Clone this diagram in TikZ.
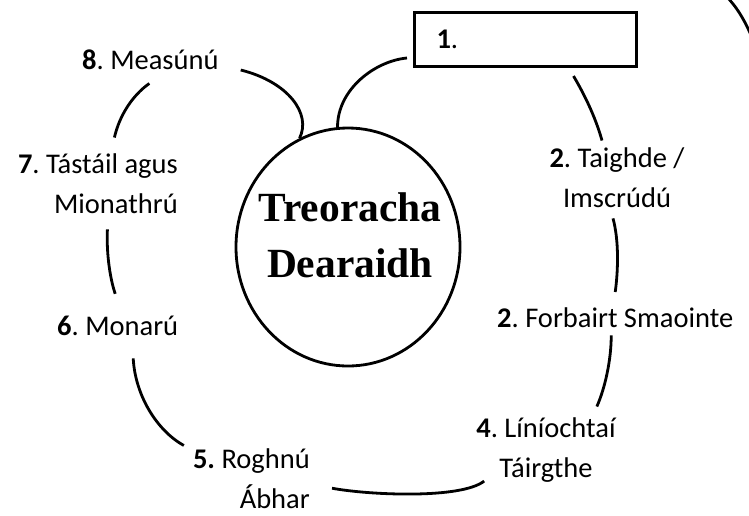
\documentclass[tikz,border=0pt]{standalone}
\usepackage{fontspec}
\setmainfont{Carlito}
\newfontfamily\headfont{Liberation Serif}
\usetikzlibrary{shapes.geometric}
\frenchspacing

\begin{document}
\begin{tikzpicture}[x=1pt,y=-1pt,
    stage/.style={font=\fontsize{28.5}{40}\selectfont, inner sep=0pt},
    heading/.style={font=\fontsize{41.5}{56}\selectfont\headfont\bfseries, align=center, inner sep=0pt},
    hub/.style={draw, ellipse, line width=2.8pt, minimum width=224pt, minimum height=238pt, inner sep=0pt},
    boxed/.style={draw, line width=3pt, font=\fontsize{28.5}{40}\selectfont, minimum height=54pt,
        text width=178pt, inner xsep=22pt, inner ysep=0pt, align=left},
    ring/.style={line width=2.8pt}]
    \useasboundingbox (0,0) rectangle (749,515);
    %centre
    \node[hub] (hub) at (348,247) {};
    \node[heading] (title) at (350,235.5) {Treoracha\\Dearaidh};
    %stages
    \node[boxed, anchor=north west] (b1) at (413,11) {\textbf{1}.};
    \node[stage, align=center, anchor=base] (m2) at (617,207) {\textbf{2}. Taighde /\\Imscrúdú};
    \node[stage, anchor=base west] (m3) at (497,327) {\textbf{2}. Forbairt Smaointe};
    \node[stage, align=center, anchor=base] (m4) at (546,477) {\textbf{4}. Líníochtaí\\Táirgthe};
    \node[stage, align=right, anchor=base east] (m5) at (310,508) {\textbf{5.} Roghnú\\Ábhar};
    \node[stage, anchor=base west] (m6) at (57,335) {\textbf{6}. Monarú};
    \node[stage, align=right, anchor=base east] (m7) at (178,213) {\textbf{7}. Tástáil agus\\Mionathrú};
    \node[stage, anchor=base west] (m8) at (82,69) {\textbf{8}. Measúnú};
    %links
    \draw[ring] ([shift={(-6,-10)}]b1.south west) .. controls +(-32,3) and +(0,-38) .. (hub.95);
    \draw[ring] ([shift={(48,8)}]b1.south) .. controls +(10,17) and +(-7,-25) .. ([shift={(-15,-6.5)}]m2.north);
    \draw[ring] ([shift={(-4,11)}]m2.south) .. controls +(6,22) and +(3,-22) .. ([shift={(0,-15)}]m3.north);
    \draw[ring] ([shift={(-4,8)}]m3.south) .. controls +(0,25) and +(8,-18) .. ([shift={(-19,-10.5)}]m4.north east);
    \draw[ring] ([shift={(22,10)}]m5.east) .. controls +(38,7) and +(-23,18) .. ([shift={(8,-1)}]m4.south west);
    \draw[ring] ([shift={(15.5,23)}]m6.south) .. controls +(2,37) and +(-27,-15) .. ([shift={(-9,-2.5)}]m5.north west);
    \draw[ring] ([shift={(9.5,16)}]m7.south) .. controls +(-1,21) and +(-6,-18) .. ([shift={(-2.5,-21.5)}]m6.north);
    \draw[ring] ([shift={(-1,14)}]m8.south) .. controls +(-17,12) and +(5,-22) .. ([shift={(16.5,-15.5)}]m7.north);
    \draw[ring] ([shift={(22,1)}]m8.base east) .. controls +(48,12) and +(12,-24) .. (hub.114);
    \begin{scope}
        \clip (0,0) rectangle (749,515);
        \draw[ring] (726,-4) .. controls (736,6) and (745,20) .. (753,40);
    \end{scope}
\end{tikzpicture}
\end{document}
